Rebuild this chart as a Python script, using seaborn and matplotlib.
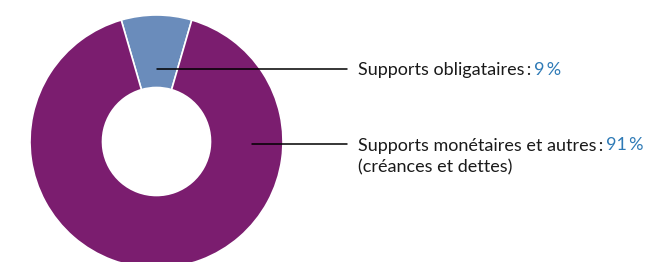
import matplotlib
matplotlib.use("Agg")
import matplotlib.pyplot as plt
import seaborn as sns
import numpy as np

labels = ["Supports obligataires", "Supports monétaires et autres"]
values = [9, 91]
pct_labels = ["9\u2009%", "91\u2009%"]
sublabels = ["", "(créances et dettes)"]
colors = ["#6A8CBB", "#7B1D6F"]

sns.set_theme(style="white")
plt.rcParams['font.family'] = ['Lato', 'DejaVu Sans']

W, H = 645, 262
fig = plt.figure(figsize=(W / 100, H / 100), dpi=100)
cx, cy, R = 156.5, 262 - 141.5, 126.5
ax = fig.add_axes([(cx - R) / W, (cy - R) / H, 2 * R / W, 2 * R / H])

start = 90 - values[0] / sum(values) * 360 / 2
wedges, _ = ax.pie(values, colors=colors, startangle=start, counterclock=True,
                   radius=1, wedgeprops=dict(width=1 - 54 / 126.5, edgecolor="white", linewidth=1.2))
ax.set_xlim(-1, 1)
ax.set_ylim(-1, 1)
ax.set_aspect("auto")
ax.axis("off")

text_x = (358 - cx) / R
fs = 13.0
anchors = [(90.0, 0.573), (-1.2, 0.755)]
text_y = [(cy - (262 - 68.5)) * -1 / R, (cy - (262 - 144)) * -1 / R]
for i, (ang, r) in enumerate(anchors):
    x0 = r * np.cos(np.radians(ang))
    y0 = text_y[i]
    ax.plot([x0, (347 - cx) / R], [y0, y0], color="black", lw=1.1, clip_on=False)
    t = ax.text(text_x, y0, labels[i] + "\u2009:", ha="left", va="center_baseline",
                fontsize=fs, color="#1a1a1a", clip_on=False)
    ax.annotate(pct_labels[i], xy=(1, 0), xycoords=t, xytext=(2, 0),
                textcoords="offset points", ha="left", va="bottom",
                fontsize=fs, color="#2E7AB6")
    if sublabels[i]:
        ax.annotate(sublabels[i], xy=(0, 0), xycoords=t, xytext=(0, -15.5),
                    textcoords="offset points", ha="left", va="bottom",
                    fontsize=fs, color="#1a1a1a")

fig.savefig("out.png", dpi=100)
